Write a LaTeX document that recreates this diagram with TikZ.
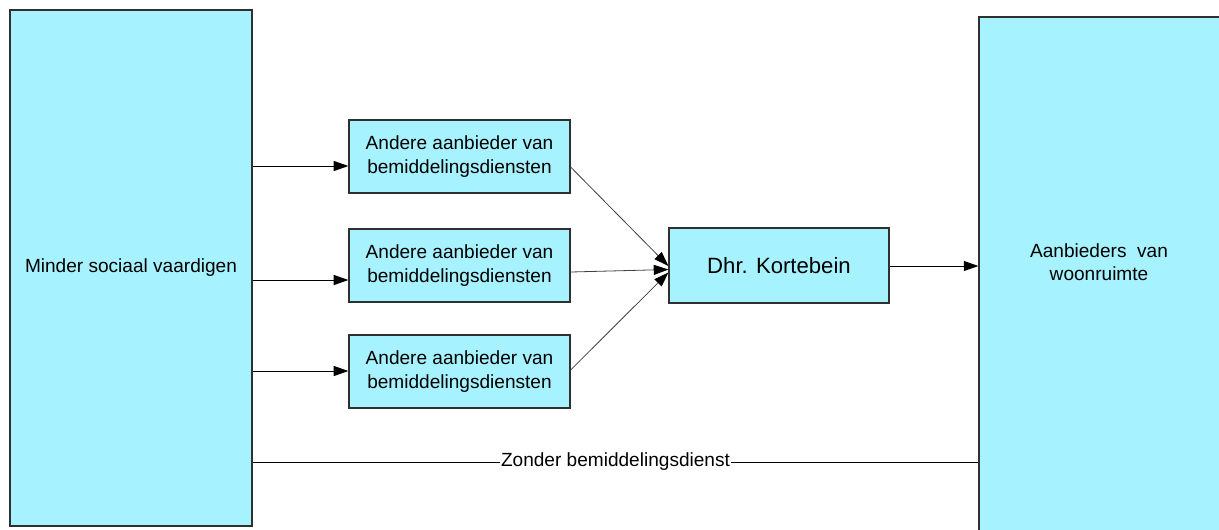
\documentclass[tikz,border=0pt]{standalone}
\usepackage{fontspec}
\setmainfont{Liberation Sans}
\usetikzlibrary{arrows.meta,calc}
\definecolor{boxfill}{RGB}{166,243,255}
\definecolor{boxline}{RGB}{48,48,48}
\begin{document}
\begin{tikzpicture}[x=0.75pt,y=-0.75pt,
  txt/.style={align=center, font=\fontsize{14.3}{17.6}\selectfont},
  box/.style={txt, draw=boxline, line width=0.9pt, fill=boxfill, inner sep=0pt},
  agent/.style={box, minimum width=165.75pt, minimum height=54.75pt},
  link/.style={line width=0.75pt, -{Triangle[length=11pt,width=7.5pt]}},
  feed/.style={line width=0.6pt, draw=black!75, -{Triangle[length=11pt,width=7.5pt,color=black]}},
  plain/.style={line width=0.75pt}]
\useasboundingbox (0,0) rectangle (1219,529);
\clip (0,0) rectangle (1219,529);

% outer blocks
\node[box, minimum width=181.5pt, minimum height=387pt] (L) at (131,268) {Minder sociaal vaardigen};
\node[box, minimum width=195.75pt, minimum height=407.25pt] (R) at (1109.5,288.5) {};
\node[txt] (RT) at (1099,262) {Aanbieders\ \ van\\woonruimte};

% intermediaries
\node[agent] (A1) at (459.5,156.5) {Andere aanbieder van\\bemiddelingsdiensten};
\node[agent] (A2) at (459.5,265.5) {Andere aanbieder van\\bemiddelingsdiensten};
\node[agent] (A3) at (459.5,371.5) {Andere aanbieder van\\bemiddelingsdiensten};

% central broker
\node[box, minimum width=165pt, minimum height=56.25pt, font=\fontsize{16.6}{20}\selectfont] (K) at (779,265.5) {Dhr. Kortebein};

% heights of the horizontal connectors
\path (0,166) coordinate (y1) (0,280) coordinate (y2) (0,371) coordinate (y3)
      (0,266) coordinate (yk) (0,462) coordinate (yb);

\draw[link] (L.east |- y1) -- (A1.west |- y1);
\draw[link] (L.east |- y2) -- (A2.west |- y2);
\draw[link] (L.east |- y3) -- (A3.west |- y3);

\draw[feed] ($(A1.east)+(0,10.5)$) -- ($(K.west)+(0,0.5)$);
\draw[feed] ($(A2.east)+(0,6.5)$) -- ($(K.west)+(0,4)$);
\draw[feed] ($(A3.east)+(0,-1.5)$) -- ($(K.west)+(0,7)$);

\draw[link] (K.east |- yk) -- (R.west |- yk);

\draw[plain] (L.east |- yb) -- node[txt, fill=white, inner sep=1pt] (ZB) {Zonder bemiddelingsdienst} (R.west |- yb);
\end{tikzpicture}
\end{document}
